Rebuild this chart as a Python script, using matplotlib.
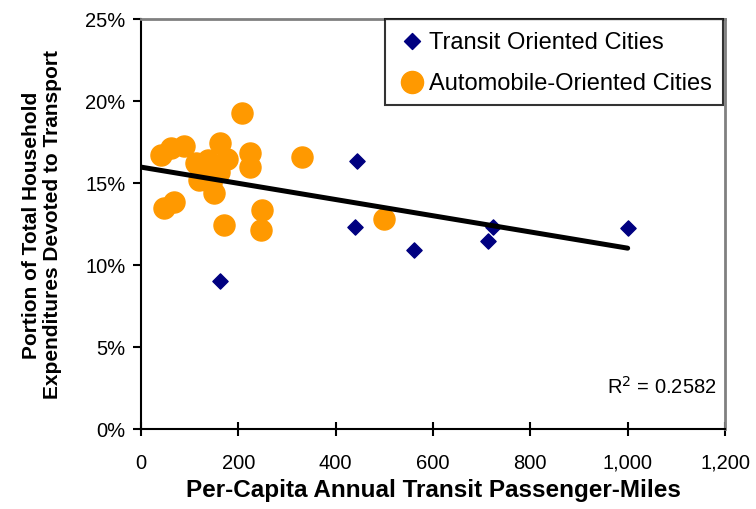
import numpy as np
import matplotlib.pyplot as plt

plt.rcParams['font.family'] = ['Liberation Sans', 'DejaVu Sans']

# Transit-oriented cities (passenger-miles, share of expenditures)
transit_miles = [163, 443, 439, 561, 723, 713, 1000]
transit_share = [0.090, 0.1635, 0.123, 0.109, 0.123, 0.1145, 0.1225]

# Automobile-oriented cities
auto_miles = [208, 41, 62, 89, 163, 177, 223, 223, 330, 113, 138,
              126, 161, 120, 144, 151, 47, 68, 171, 249, 247, 499]
auto_share = [0.1924, 0.1669, 0.1711, 0.1723, 0.1742, 0.1644, 0.1681, 0.1596,
              0.1657, 0.1620, 0.1638, 0.1559, 0.1566, 0.1517, 0.1499, 0.1438,
              0.1347, 0.1383, 0.1244, 0.1335, 0.1214, 0.1280]

r_squared = 0.2582

fig = plt.figure(figsize=(7.56, 5.10), dpi=100)
ax = fig.add_axes([0.1865, 0.157, 0.7725, 0.804])

ax.scatter(transit_miles, transit_share, marker='D', s=60, color='#000080',
           zorder=3, label='Transit Oriented Cities')
ax.scatter(auto_miles, auto_share, marker='o', s=230, color='#FF9900',
           zorder=3, label='Automobile-Oriented Cities')

# linear trend over all cities
all_x = np.array(transit_miles + auto_miles)
all_y = np.array(transit_share + auto_share)
slope, intercept = np.polyfit(all_x, all_y, 1)
xs = np.array([0, all_x.max()])
ax.plot(xs, intercept + slope * xs, color='black', lw=3.6, zorder=4,
        solid_capstyle='round')

ax.set_xlim(0, 1200)
ax.set_ylim(0, 0.25)
ax.set_xticks(np.arange(0, 1201, 200))
ax.set_xticklabels(['0', '200', '400', '600', '800', '1,000', '1,200'])
ax.set_yticks(np.arange(0, 0.26, 0.05))
ax.set_yticklabels(['0%', '5%', '10%', '15%', '20%', '25%'])
ax.tick_params(axis='x', direction='inout', length=10, width=1.5, labelsize=14.5, pad=12)
ax.tick_params(axis='y', direction='out', length=6, width=1.5, labelsize=14.5, pad=5)

for side in ['left', 'bottom']:
    ax.spines[side].set_color('black')
    ax.spines[side].set_linewidth(1.5)
for side in ['top', 'right']:
    ax.spines[side].set_color('#808080')
    ax.spines[side].set_linewidth(2)

ax.set_xlabel('Per-Capita Annual Transit Passenger-Miles', fontsize=17.5,
              fontweight='bold', labelpad=5)
ax.set_ylabel('Portion of Total Household\nExpenditures Devoted to Transport',
              fontsize=15, fontweight='bold', labelpad=17, linespacing=1.1)

ax.text(0.985, 0.105, 'R$^2$ = %.4f' % r_squared, transform=ax.transAxes,
        ha='right', va='center', fontsize=14.5)

leg = ax.legend(loc='upper right', bbox_to_anchor=(0.997, 1.0), fontsize=17,
                frameon=True, fancybox=False, edgecolor='black',
                handlelength=1.3, handletextpad=0.05, borderpad=0.5,
                labelspacing=0.8, borderaxespad=0.0, markerscale=1.05)
leg.get_frame().set_linewidth(1.5)
leg.set_zorder(5)

fig.savefig('out.png', dpi=100)
